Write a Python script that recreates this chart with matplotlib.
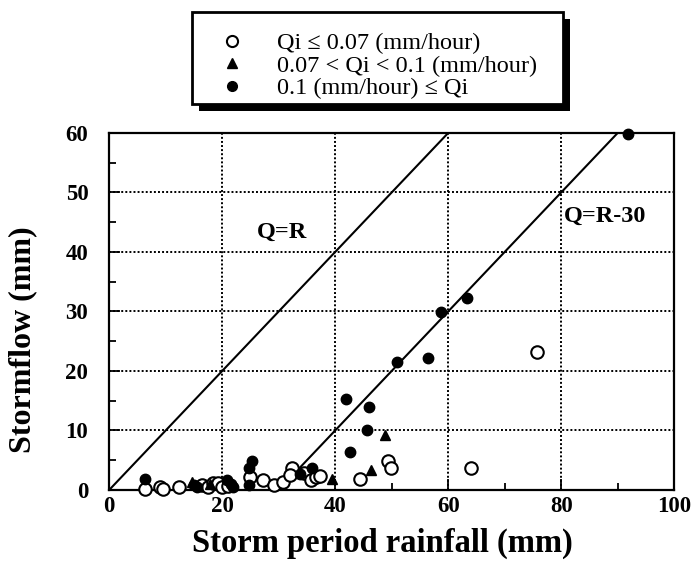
import numpy as np
import matplotlib.pyplot as plt
from matplotlib.lines import Line2D
from matplotlib.patches import Rectangle

# storm period rainfall (mm) vs stormflow (mm), by initial flow Qi
low_x = [6.4, 9.0, 9.6, 12.4, 16.5, 17.5, 18.3, 19.3, 19.9, 21.0, 25.0, 27.3, 29.1,
         30.7, 32.3, 32.0, 34.4, 35.7, 36.6, 37.3, 44.4, 49.3, 49.9, 64.0, 75.8]
low_y = [0.1, 0.45, 0.2, 0.45, 0.8, 0.5, 1.2, 1.1, 0.45, 0.6, 2.2, 1.7, 0.8,
         1.4, 3.7, 2.6, 2.8, 1.7, 2.2, 2.4, 1.8, 4.9, 3.7, 3.7, 23.2]

mid_x = [14.6, 17.8, 39.4, 46.3, 48.8]
mid_y = [1.4, 1.0, 1.8, 3.4, 9.3]

high_x = [6.4, 15.5, 15.0, 20.8, 21.5, 22.0, 24.7, 24.7, 25.3, 33.8, 35.9, 42.7,
          45.7, 46.0, 41.9, 50.9, 56.5, 58.7, 63.3, 91.9]
high_y = [1.9, 0.45, 0.8, 1.6, 1.0, 0.5, 0.8, 3.7, 4.8, 2.7, 3.7, 6.4,
          10.1, 13.9, 15.3, 21.5, 22.1, 29.9, 32.3, 59.9]

labels = ['Qi \u2264 0.07 (mm/hour)', '0.07 < Qi < 0.1 (mm/hour)', '0.1 (mm/hour) \u2264 Qi']

serif = 'Liberation Serif'

fig = plt.figure(figsize=(6.91, 5.70), dpi=100)
ax = fig.add_axes([0.158, 0.1404, 0.8176, 0.6263])

# reference lines Q=R and Q=R-30
r1 = np.array([0, 60])
r2 = np.array([30, 90])
ax.plot(r1, r1, color='black', lw=1.5, zorder=2)
ax.plot(r2, r2 - 30, color='black', lw=1.5, zorder=2)

ax.plot(low_x, low_y, 'o', mfc='white', mec='black', mew=1.5, ms=9, ls='none', zorder=3, clip_on=False)
ax.plot(mid_x, mid_y, '^', color='black', ms=7, ls='none', zorder=4, clip_on=False)
ax.plot(high_x, high_y, 'o', color='black', ms=7.5, ls='none', zorder=4, clip_on=False)

ax.text(26.2, 43.3, 'Q=R', fontsize=17.5, fontweight='bold', family=serif, va='center')
ax.text(80.4, 46, 'Q=R-30', fontsize=17.5, fontweight='bold', family=serif, va='center')

ax.set_xlim(0, 100)
ax.set_ylim(0, 60)
ax.set_xticks(np.arange(0, 101, 20))
ax.set_xticks(np.arange(0, 101, 10), minor=True)
ax.set_yticks(np.arange(0, 61, 10))
ax.set_yticks(np.arange(0, 61, 5), minor=True)
ax.tick_params(which='both', direction='in', color='black', width=1.3)
ax.tick_params(which='major', length=8, labelsize=16.5)
ax.tick_params(which='minor', length=5)
ax.tick_params(axis='x', which='major', pad=4)
ax.tick_params(axis='y', which='major', pad=15)
for lab in ax.get_xticklabels() + ax.get_yticklabels():
    lab.set_family(serif)
    lab.set_fontweight('bold')

ax.grid(True, which='major', color='black', ls=(0, (1, 1.1)), lw=1.4)
for s in ax.spines.values():
    s.set_linewidth(1.6)

ax.set_xlabel('Storm period rainfall (mm)', fontsize=23.5, fontweight='bold', family=serif)
ax.set_ylabel('Stormflow (mm)', fontsize=23, fontweight='bold', family=serif)
ax.xaxis.set_label_coords(0.484, -0.105)
ax.yaxis.set_label_coords(-0.128, 0.42)

# legend box with heavy shadow
fig.patches.append(Rectangle((0.288, 0.8053), 0.537, 0.1614, transform=fig.transFigure,
                             facecolor='black', edgecolor='none', zorder=1))
fig.patches.append(Rectangle((0.2779, 0.8175), 0.537, 0.1614, transform=fig.transFigure,
                             facecolor='white', edgecolor='black', lw=2, zorder=2))

handles = [Line2D([], [], marker='o', mfc='white', mec='black', mew=1.5, ms=8, ls='none'),
           Line2D([], [], marker='^', color='black', ms=6.5, ls='none'),
           Line2D([], [], marker='o', color='black', ms=7, ls='none')]
leg = fig.legend(handles, labels, loc='upper left', bbox_to_anchor=(203 / 691, 1 - 15 / 570),
                 frameon=False, prop={'family': serif, 'size': 17.5},
                 handlelength=1.0, handletextpad=1.35, labelspacing=0.03, borderpad=0.2)
leg.set_zorder(5)

fig.savefig('out.png', dpi=100)
